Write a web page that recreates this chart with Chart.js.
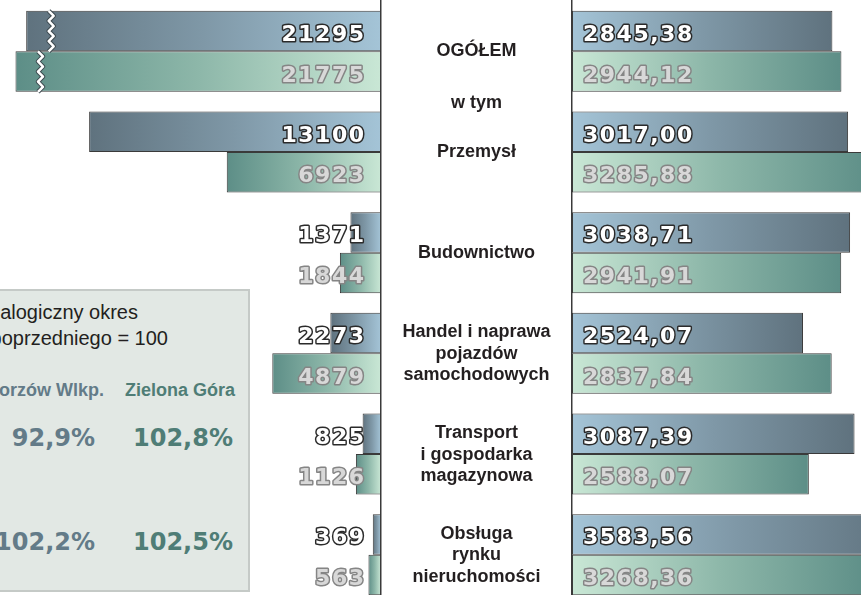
<!DOCTYPE html>
<html lang="pl">
<head>
<meta charset="utf-8">
<script src="https://cdn.jsdelivr.net/npm/chart.js@4"></script>
<style>
html, body { margin: 0; padding: 0; background: #fff; overflow: hidden; width: 861px; height: 595px; }
body { position: relative; font-family: "Liberation Sans", Arial, sans-serif; color: #231f20; }
#leftWrap { position: absolute; left: 0; top: 0; width: 384px; height: 606px; }
#rightWrap { position: absolute; left: 569px; top: 0; width: 292px; height: 606px; }
.mid { position: absolute; left: 381px; width: 191px; text-align: center; font-weight: bold;
       font-size: 18px; line-height: 21.5px; transform: translateY(-50%); white-space: nowrap; }
.box { position: absolute; left: -70px; top: 289px; width: 316px; height: 299px;
       background: #e2e8e4; border: 2px solid #c5cac7; z-index: 2; }
.lg { position: absolute; white-space: nowrap; z-index: 3; transform: translateY(-50%); }
.head { position: absolute; right: 527px; top: -16px; font-size: 15px; line-height: 15px; white-space: nowrap; }
</style>
</head>
<body>
<div class="head">Przeciętne zatrudnienie wg (tys.)</div>
<div id="leftWrap"><canvas id="left"></canvas></div>
<div id="rightWrap"><canvas id="right"></canvas></div>
<div class="box"></div>
<script>
// categories (middle column)
const categories = ['OGÓŁEM', 'Przemysł', 'Budownictwo', 'Handel i naprawa pojazdów samochodowych',
    'Transport i gospodarka magazynowa', 'Obsługa rynku nieruchomości'];
const categoryLines = [
    ['OGÓŁEM'],
    ['Przemysł'],
    ['Budownictwo'],
    ['Handel i naprawa', 'pojazdów', 'samochodowych'],
    ['Transport', 'i gospodarka', 'magazynowa'],
    ['Obsługa', 'rynku', 'nieruchomości'],
];

// left: employment
const employGorzow = [21295, 13100, 1371, 2273, 825, 369];
const employZielona = [21775, 6923, 1844, 4879, 1126, 563];
const brokenBars = [true, false, false, false, false, false];
const BREAK_SHIFT = 5370;   // part cut out of the broken bars
const LEFT_MAX = 17100;

// right: wages (zł)
const wageGorzow = [2845.38, 3017.00, 3038.71, 2524.07, 3087.39, 3583.56];
const wageZielona = [2944.12, 3285.88, 2941.91, 2837.84, 2588.07, 3268.36];
const RIGHT_MAX = 3158;

// legend box: dynamics
const cities = ['Gorzów Wlkp.', 'Zielona Góra'];
const dynGorzow = [92.9, 102.2];
const dynZielona = [102.8, 102.5];

const blueStops = ['#a4c4d7', '#7f98a7', '#5f727e'];
const greenStops = ['#c9e7d5', '#8db7a9', '#5d8e87'];

function gradientFill(stops) {
    return function(ctx) {
        const chart = ctx.chart;
        if (!chart.chartArea || !ctx.parsed) return stops[1];
        const xs = chart.scales.x;
        const x0 = xs.getPixelForValue(0);
        const x1 = xs.getPixelForValue(ctx.parsed.x);
        if (Math.abs(x1 - x0) < 1) return stops[1];
        const g = chart.ctx.createLinearGradient(x0, 0, x1, 0);
        g.addColorStop(0, stops[0]);
        g.addColorStop(0.5, stops[1]);
        g.addColorStop(1, stops[2]);
        return g;
    };
}

const fmtInt = v => String(v);
const fmtDec = v => v.toFixed(2).replace('.', ',');

function barLabels(texts, side) {
    return {
        id: 'barLabels',
        afterDatasetsDraw(chart) {
            const ctx = chart.ctx;
            const area = chart.chartArea;
            ctx.save();
            ctx.font = 'bold 22px "DejaVu Sans"';
            ctx.letterSpacing = '1.5px';
            ctx.lineJoin = 'round';
            ctx.textBaseline = 'alphabetic';
            ctx.textAlign = side === 'left' ? 'right' : 'left';
            const x = side === 'left' ? area.right - 15.5 : area.left + 11;
            chart.data.datasets.forEach((ds, di) => {
                const meta = chart.getDatasetMeta(di);
                meta.data.forEach((bar, i) => {
                    const t = texts[di][i];
                    const y = bar.y + 10;
                    ctx.lineWidth = 3;
                    ctx.strokeStyle = di === 0 ? '#2b2b2b' : '#858585';
                    ctx.fillStyle = di === 0 ? '#ffffff' : '#d8d8d8';
                    ctx.strokeText(t, x, y);
                    ctx.fillText(t, x, y);
                });
            });
            ctx.restore();
        }
    };
}

const breakMarks = {
    id: 'breakMarks',
    afterDatasetsDraw(chart) {
        const ctx = chart.ctx;
        ctx.save();
        chart.data.datasets.forEach((ds, di) => {
            chart.getDatasetMeta(di).data.forEach((bar, i) => {
                if (!brokenBars[i]) return;
                const bx = bar.x + 25;
                const top = bar.y - bar.height / 2, bot = bar.y + bar.height / 2;
                const steps = 8;
                ctx.beginPath();
                for (let k = 0; k <= steps; k++) {
                    const yy = top + (bot - top) * k / steps;
                    const xx = bx + (k % 2 ? 2.5 : -2.5);
                    if (k === 0) ctx.moveTo(xx, yy); else ctx.lineTo(xx, yy);
                }
                ctx.lineJoin = 'round';
                ctx.strokeStyle = '#3d4a50';
                ctx.lineWidth = 4.5;
                ctx.stroke();
                ctx.strokeStyle = '#ffffff';
                ctx.lineWidth = 2.5;
                ctx.stroke();
            });
        });
        ctx.restore();
    }
};

function barDataset(label, data, stops) {
    return {
        label: label,
        data: data,
        backgroundColor: gradientFill(stops),
        borderColor: '#3a3a3a',
        borderWidth: 1,
        borderSkipped: false,
        categoryPercentage: 0.805,
        barPercentage: 1.0,
    };
}

function yAxis(position) {
    return {
        type: 'category',
        position: position,
        grid: { display: false, drawTicks: false },
        ticks: { display: false },
        border: { display: true, color: '#3a3a3a', width: 1.5 },
        afterFit: s => { s.width = 0; },
    };
}

const commonOpts = {
    indexAxis: 'y',
    responsive: true,
    maintainAspectRatio: false,
    animation: false,
    events: [],
    plugins: { legend: { display: false }, tooltip: { enabled: false } },
};

const leftChart = new Chart(document.getElementById('left'), {
    type: 'bar',
    data: {
        labels: categories,
        datasets: [
            barDataset(cities[0], employGorzow.map((v, i) => brokenBars[i] ? v - BREAK_SHIFT : v), blueStops),
            barDataset(cities[1], employZielona.map((v, i) => brokenBars[i] ? v - BREAK_SHIFT : v), greenStops),
        ],
    },
    options: {
        ...commonOpts,
        layout: { padding: { left: 0, right: 3, top: 1, bottom: 1 } },
        scales: {
            x: { type: 'linear', display: false, reverse: true, min: 0, max: LEFT_MAX },
            y: yAxis('right'),
        },
    },
    plugins: [breakMarks, barLabels([employGorzow.map(fmtInt), employZielona.map(fmtInt)], 'left')],
});

const rightChart = new Chart(document.getElementById('right'), {
    type: 'bar',
    data: {
        labels: categories,
        datasets: [
            barDataset(cities[0], wageGorzow, blueStops),
            barDataset(cities[1], wageZielona, greenStops),
        ],
    },
    options: {
        ...commonOpts,
        layout: { padding: { left: 3, right: 0, top: 1, bottom: 1 } },
        scales: {
            x: { type: 'linear', display: false, min: 0, max: RIGHT_MAX },
            y: yAxis('left'),
        },
    },
    plugins: [barLabels([wageGorzow.map(fmtDec), wageZielona.map(fmtDec)], 'right')],
});

// middle column labels, placed on the category pixels
const ys = leftChart.scales.y;
function addMid(html, y) {
    const d = document.createElement('div');
    d.className = 'mid';
    d.style.top = y + 'px';
    d.innerHTML = html;
    document.body.appendChild(d);
}
categoryLines.forEach((lines, i) => addMid(lines.join('<br>'), ys.getPixelForValue(i)));
addMid('w tym', (ys.getPixelForValue(0) + ys.getPixelForValue(1)) / 2 + 1);

// legend box texts
function addLg(text, css) {
    const d = document.createElement('div');
    d.className = 'lg';
    d.textContent = text;
    Object.assign(d.style, css);
    document.body.appendChild(d);
}
const pct = v => v.toFixed(1).replace('.', ',') + '%';
addLg('Analogiczny okres', { right: (861 - 138) + 'px', top: '312px', fontSize: '20px' });
addLg('roku poprzedniego = 100', { right: (861 - 168) + 'px', top: '338px', fontSize: '20px' });
addLg(cities[0], { right: (861 - 104) + 'px', top: '390px', fontSize: '18px', fontWeight: 'bold', color: '#637b88' });
addLg(cities[1], { left: '125px', top: '390px', fontSize: '18px', fontWeight: 'bold', color: '#4f7d76' });
const dynFont = 'bold 24px "DejaVu Sans"';
const dynRows = [438, 542];
dynGorzow.forEach((v, i) => addLg(pct(v), { right: (861 - 95) + 'px', top: dynRows[i] + 'px', font: dynFont, color: '#637b88' }));
dynZielona.forEach((v, i) => addLg(pct(v), { left: '133px', top: dynRows[i] + 'px', font: dynFont, color: '#4f7d76' }));
</script>
</body>
</html>
